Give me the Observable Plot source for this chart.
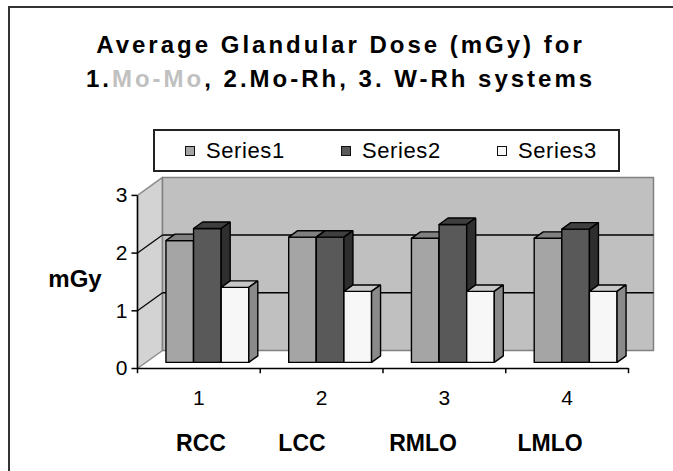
<!DOCTYPE html>
<html>
<head>
<meta charset="utf-8">
<script src="https://cdn.jsdelivr.net/npm/d3@7"></script>
<script src="https://cdn.jsdelivr.net/npm/@observablehq/plot@0.6"></script>
<style>
  html, body { margin: 0; padding: 0; }
  body { width: 673px; height: 471px; overflow: hidden; background: #fff; position: relative;
         font-family: Arial, "Liberation Sans", sans-serif; color: #000; }
  #frame { position: absolute; left: 8px; top: 6px; width: 720px; height: 520px; border: 2px solid #333; box-sizing: border-box; }
  .title { position: absolute; left: 4px; width: 673px; text-align: center; font-weight: bold;
           font-size: 24px; letter-spacing: 3px; line-height: 24px; white-space: nowrap; }
  .title .mo { color: #c0c0c0; }
  #legend { position: absolute; left: 153px; top: 129px; width: 467px; height: 43px;
            border: 2px solid #222; box-sizing: border-box; background: #fff; }
  .li { position: absolute; top: 0; height: 39px; display: flex; align-items: center;
        font-size: 22px; letter-spacing: 0.6px; white-space: nowrap; }
  .sw { width: 8px; height: 8px; border: 1px solid #111; margin-right: 11px; }
  #ylab { position: absolute; left: 75px; top: 279px; transform: translate(-50%, -50%);
          font-weight: bold; font-size: 24px; }
  .cat { position: absolute; top: 443px; transform: translate(-50%, -50%); font-weight: bold;
         font-size: 23px; white-space: nowrap; }
  #chart { position: absolute; left: 0; top: 172px; }
</style>
</head>
<body>
<div id="frame"></div>
<div class="title" style="top:33px">Average Glandular Dose (mGy) for</div>
<div class="title" style="top:67px">1.<span class="mo">Mo-Mo</span>, 2.Mo-Rh, 3. W-Rh systems</div>
<div id="legend"></div>
<div id="ylab">mGy</div>
<div id="cats"></div>
<div id="chart"></div>
<script>
// ---- data ----
const categories = ["1", "2", "3", "4"];
const viewNames = ["RCC", "LCC", "RMLO", "LMLO"];
const seriesNames = ["Series1", "Series2", "Series3"];
const series1 = [2.11, 2.17, 2.15, 2.15];
const series2 = [2.32, 2.17, 2.39, 2.31];
const series3 = [1.30, 1.23, 1.23, 1.23];
const yTicks = [0, 1, 2, 3];

// ---- styles ----
const faceColors = [
  {front: "#a5a5a5", top: "#808080", side: "#6e6e6e"},
  {front: "#595959", top: "#3f3f3f", side: "#2e2e2e"},
  {front: "#f7f7f7", top: "#c8c8c8", side: "#8a8a8a"}
];
const viewPos = [201, 302, 423, 550];
const legendPos = [30, 186, 342];

// legend (HTML)
const legend = document.getElementById("legend");
seriesNames.forEach((name, i) => {
  const d = document.createElement("div");
  d.className = "li";
  d.style.left = legendPos[i] + "px";
  d.innerHTML = `<span class="sw" style="background:${faceColors[i].front}"></span>${name}`;
  legend.appendChild(d);
});
// category names row
const catsDiv = document.getElementById("cats");
viewNames.forEach((n, i) => {
  const s = document.createElement("div");
  s.className = "cat";
  s.style.left = viewPos[i] + "px";
  s.textContent = n;
  catsDiv.appendChild(s);
});

// ---- pseudo-3D geometry (data units) ----
const DX = 0.2037, DY = 0.312;   // depth offset of back wall
const T0 = 0.34, T1 = 0.70;      // bar depth range
const BW = 0.225;                // bar width
const yMax = yTicks[yTicks.length - 1];
const xLo = 0.5, xHi = categories.length + 0.5;
const P = (x, y, t) => ({x: x + t * DX, y: y + t * DY});

function poly(arr, id, pts) { [...pts, pts[0]].forEach(p => arr.push({id, ...p})); }

function barFaces(values, s) {
  const front = [], top = [], side = [];
  values.forEach((v, i) => {
    const c = i + 1, x1 = c - 1.5 * BW + s * BW, x2 = x1 + BW, id = s + "-" + i;
    poly(front, id, [P(x1, 0, T0), P(x2, 0, T0), P(x2, v, T0), P(x1, v, T0)]);
    poly(top, id, [P(x1, v, T0), P(x2, v, T0), P(x2, v, T1), P(x1, v, T1)]);
    poly(side, id, [P(x2, 0, T0), P(x2, 0, T1), P(x2, v, T1), P(x2, v, T0)]);
  });
  return {front, top, side};
}

const sideWall = []; poly(sideWall, "sw", [P(xLo, 0, 0), P(xLo, yMax, 0), P(xLo, yMax, 1), P(xLo, 0, 1)]);
const backWall = []; poly(backWall, "bw", [P(xLo, 0, 1), P(xHi, 0, 1), P(xHi, yMax, 1), P(xLo, yMax, 1)]);
const grid = yTicks.filter(v => v > 0 && v < yMax);
const bounds = d3.range(categories.length + 1).map(i => xLo + i);

const barMarks = [];
[series1, series2, series3].forEach((vals, s) => {
  const f = barFaces(vals, s);
  const common = {x: "x", y: "y", z: "id", stroke: "#000", strokeWidth: 1.4, strokeLinejoin: "miter"};
  barMarks.push(Plot.line(f.front, {...common, fill: faceColors[s].front}));
  barMarks.push(Plot.line(f.top, {...common, fill: faceColors[s].top}));
  barMarks.push(Plot.line(f.side, {...common, fill: faceColors[s].side}));
});

const y0px = 196, pxPerUnit = 57.7;
const chart = Plot.plot({
  width: 673,
  height: 299,
  margin: 0,
  style: {fontFamily: "Arial, 'Liberation Sans', sans-serif", fontSize: "21px", background: "transparent", overflow: "visible", color: "#000"},
  x: {domain: [xLo, xHi], range: [137, 628], axis: null},
  y: {domain: [0, yMax], range: [y0px, y0px - yMax * pxPerUnit], axis: null},
  marks: [
    Plot.line(sideWall, {x: "x", y: "y", z: "id", fill: "#d3d3d3", stroke: "#8c8c8c", strokeWidth: 1.5}),
    Plot.line(backWall, {x: "x", y: "y", z: "id", fill: "#c0c0c0", stroke: "#808080", strokeWidth: 1.5}),
    Plot.link(grid, {x1: () => P(xLo, 0, 1).x, x2: () => P(xHi, 0, 1).x, y1: d => d + DY, y2: d => d + DY, stroke: "#000", strokeWidth: 1.5}),
    Plot.link(grid, {x1: () => xLo, x2: () => xLo + DX, y1: d => d, y2: d => d + DY, stroke: "#000", strokeWidth: 1.2}),
    ...barMarks,
    Plot.link([0], {x1: () => xLo, x2: () => xLo, y1: () => 0, y2: () => yMax, stroke: "#000", strokeWidth: 1.5}),
    Plot.link([0], {x1: () => xLo, x2: () => xHi, y1: () => 0, y2: () => 0, stroke: "#000", strokeWidth: 1.5}),
    Plot.ruleY(yTicks, {y: d => d, x1: () => xLo - 0.045, x2: () => xLo, stroke: "#000", strokeWidth: 1.5}),
    Plot.ruleX(bounds, {x: d => d, y1: () => 0, y2: () => -0.09, stroke: "#000", strokeWidth: 1.5}),
    Plot.text(yTicks, {x: () => xLo, y: d => d, text: d => String(d), dx: -10, textAnchor: "end", fontSize: 21}),
    Plot.text(categories, {x: (d, i) => i + 1, y: () => 0, text: d => d, dy: 30, fontSize: 21})
  ]
});
document.getElementById("chart").appendChild(chart);
</script>
</body>
</html>
